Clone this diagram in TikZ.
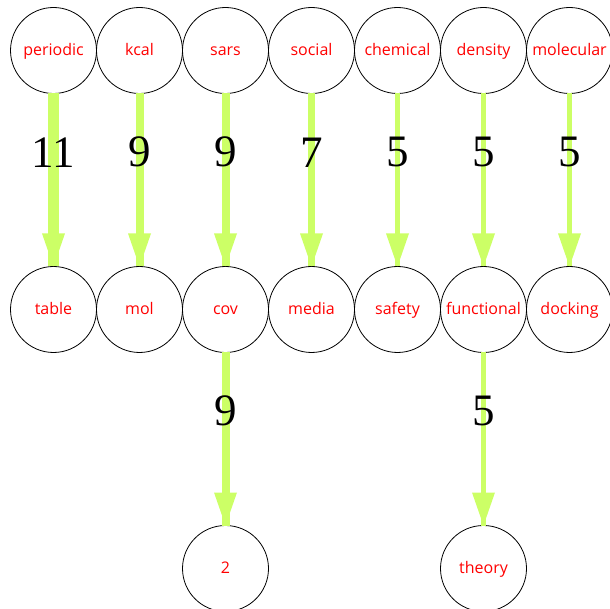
\documentclass[tikz,border=0pt]{standalone}
\usepackage{fontspec}
\setmainfont{Open Sans}
\newfontfamily\numfont{Liberation Serif}
\usepackage{xcolor}
\usetikzlibrary{positioning, arrows.meta, decorations.markings}
\definecolor{flowgreen}{RGB}{204,255,102}

\begin{document}
\begin{tikzpicture}[node distance=0pt]
  \tikzstyle{word} = [circle, draw, line width=0.8pt, minimum size=86pt, inner sep=0pt, outer sep=0pt, text=red, text height=13pt, text depth=3.5pt, font=\fontsize{16}{16}\selectfont]
  \tikzstyle{flow} = [draw=flowgreen, postaction={decorate, decoration={markings, mark=at position 1 with {\arrow[flowgreen]{Triangle[length=33pt, width=23pt, line width=0pt]}}}}]
  \tikzstyle{count} = [pos=0.34, text=black, font=\numfont\fontsize{45}{45}\selectfont]

  \useasboundingbox (-53.5pt,50.5pt) rectangle ++(610pt,-609pt);

  % top row
  \node[word] (periodic) at (0,0) {periodic};
  \node[word] (kcal) [right=of periodic] {kcal};
  \node[word] (sars) [right=of kcal] {sars};
  \node[word] (social) [right=of sars] {social};
  \node[word] (chemical) [right=of social] {chemical};
  \node[word] (density) [right=of chemical] {density};
  \node[word] (molecular) [right=of density] {molecular};

  % second row
  \node[word] (table) [below=173pt of periodic] {table};
  \node[word] (mol) [below=173pt of kcal] {mol};
  \node[word] (cov) [below=173pt of sars] {cov};
  \node[word] (media) [below=173pt of social] {media};
  \node[word] (safety) [below=173pt of chemical] {safety};
  \node[word] (functional) [below=173pt of density] {functional};
  \node[word] (docking) [below=173pt of molecular] {docking};

  % third row
  \node[word] (two) [below=173pt of cov] {2};
  \node[word] (theory) [below=173pt of functional] {theory};

  \path
    (periodic) edge [flow, line width=10pt] node [count] {11} (table)
    (kcal) edge [flow, line width=8pt] node [count] {9} (mol)
    (sars) edge [flow, line width=8pt] node [count] {9} (cov)
    (social) edge [flow, line width=6.7pt] node [count] {7} (media)
    (chemical) edge [flow, line width=5pt] node [count] {5} (safety)
    (density) edge [flow, line width=5pt] node [count] {5} (functional)
    (molecular) edge [flow, line width=5pt] node [count] {5} (docking)
    (cov) edge [flow, line width=8pt] node [count] {9} (two)
    (functional) edge [flow, line width=5pt] node [count] {5} (theory);
\end{tikzpicture}
\end{document}
